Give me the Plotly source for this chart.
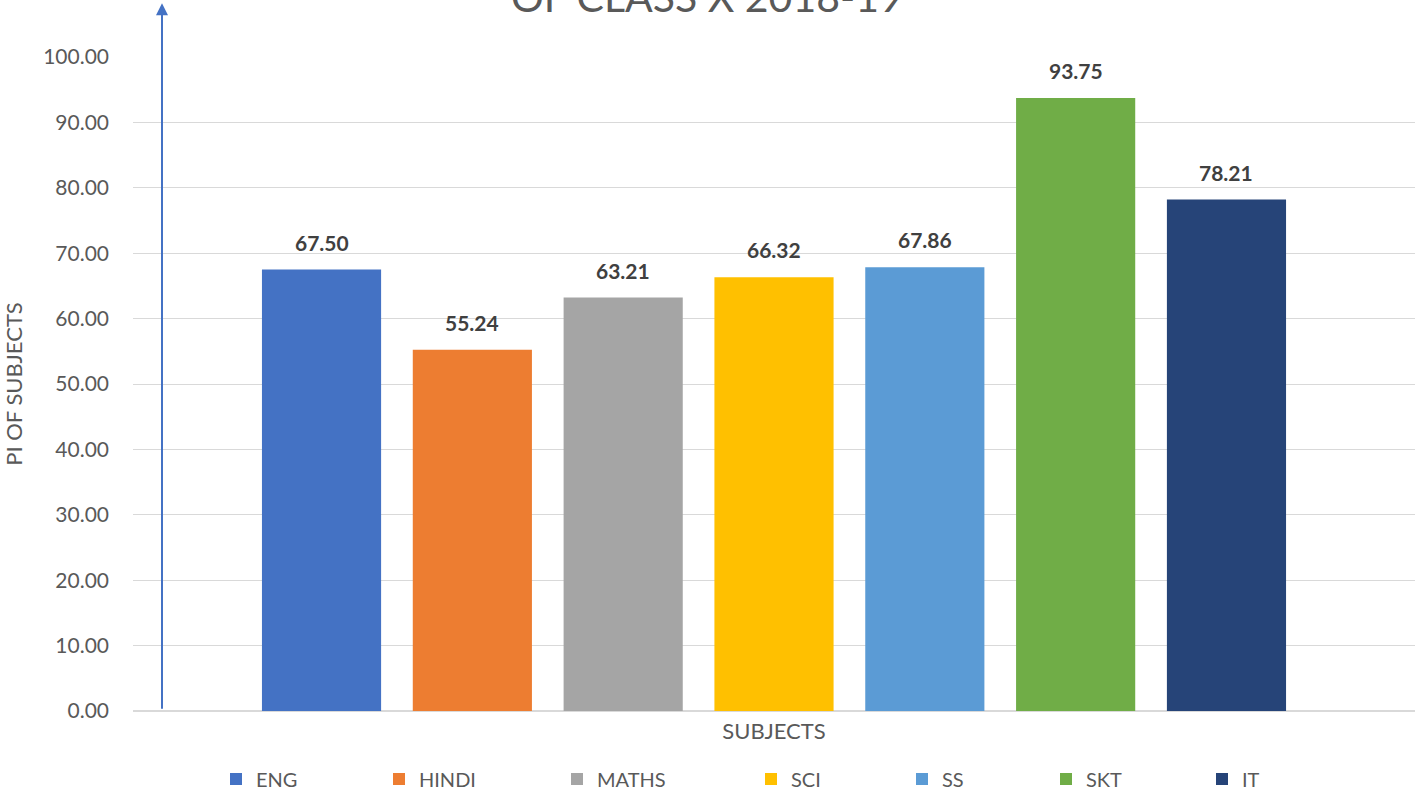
import plotly.graph_objects as go

subjects = ["ENG", "HINDI", "MATHS", "SCI", "SS", "SKT", "IT"]
pi_values = [67.50, 55.24, 63.21, 66.32, 67.86, 93.75, 78.21]
colors = ["#4472C4", "#ED7D31", "#A5A5A5", "#FFC000", "#5B9BD5", "#70AD47", "#264478"]
y_ticks = [0, 10, 20, 30, 40, 50, 60, 70, 80, 90, 100]

# legend entry start positions (pixels) mirroring the reference layout
legend_px = [216, 379, 557, 751, 902, 1046, 1202]

FONT = "Lato"
PLOT_L, PLOT_W = 133, 1282
fig = go.Figure()
legend_layout = {}
for i, (s, v, c) in enumerate(zip(subjects, pi_values, colors)):
    lname = "legend" if i == 0 else "legend%d" % (i + 1)
    fig.add_trace(go.Bar(x=[s], y=[v], name=s, marker=dict(color=c, line=dict(width=0)),
                         width=0.79, legend=lname))
    fig.add_annotation(x=s, y=v, text="<b>%.2f</b>" % v, showarrow=False,
                       yanchor="bottom", yshift=13,
                       font=dict(family=FONT, size=21, color="#404040"))
    legend_layout[lname] = dict(orientation="h", x=(legend_px[i] - PLOT_L) / PLOT_W,
                                xanchor="left", y=-0.104, yanchor="middle",
                                bgcolor="rgba(0,0,0,0)", borderwidth=0,
                                font=dict(family=FONT, size=20, color="#595959"))

fig.add_annotation(xref="paper", yref="paper", x=(162 - 133) / 1282, y=1.082,
                   ax=0, ay=707, axref="pixel", ayref="pixel",
                   showarrow=True, arrowhead=2, arrowsize=1.2, arrowwidth=2,
                   arrowcolor="#4472C4", text="")

fig.add_annotation(xref="paper", yref="paper", x=(707 - 133) / 1282, y=1.052,
                   yanchor="bottom", xanchor="center", showarrow=False,
                   text="OF CLASS X 2018-19",
                   font=dict(family=FONT, size=41, color="#595959"))

fig.update_layout(
    width=1426, height=792,
    margin=dict(l=133, r=11, t=57, b=81, autoexpand=False),
    paper_bgcolor="white", plot_bgcolor="white",
    barmode="overlay",
    font=dict(family=FONT, color="#595959"),
    xaxis=dict(range=[-1.25, 7.25], showticklabels=False, showgrid=False,
               zeroline=False, showline=False, ticks="", automargin=False,
               title=dict(text="SUBJECTS", font=dict(size=22, color="#595959"), standoff=12)),
    yaxis=dict(range=[0, 100], tickvals=y_ticks, tickformat=".2f", automargin=False,
               gridcolor="#D9D9D9", gridwidth=1, zeroline=True, zerolinecolor="#D9D9D9",
               zerolinewidth=1.5, showline=False, ticks="", ticklabelstandoff=23,
               tickfont=dict(size=21, color="#595959"),
               title=dict(text="PI OF SUBJECTS", font=dict(size=22, color="#595959"), standoff=20)),
    showlegend=True,
    **legend_layout,
)

fig.write_html("out.html", config={"displayModeBar": False},
               post_script="document.body.style.margin='0';document.body.style.padding='0';")
